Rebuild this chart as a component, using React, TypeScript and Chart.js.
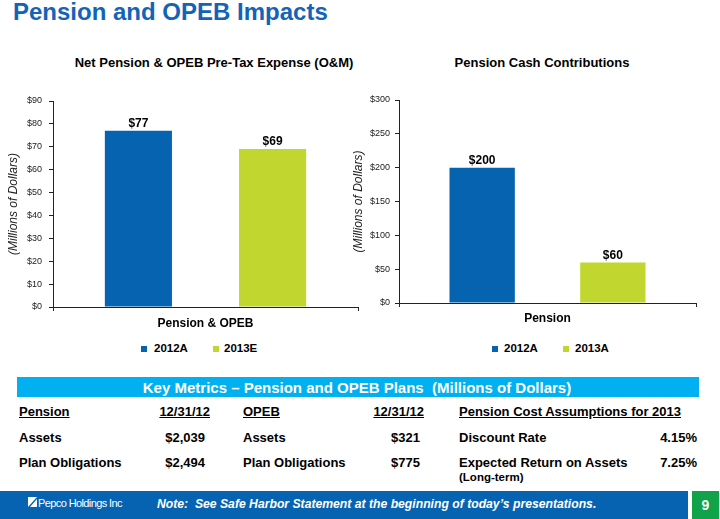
import React, { useEffect, useRef } from "react";
import { Chart, registerables } from "chart.js";

Chart.register(...registerables);

const FONT = "'Liberation Sans', Arial, Helvetica, sans-serif";

// ---- Data ----
const leftCategories = ["Pension & OPEB"];
const leftSeriesNames = ["2012A", "2013E"];
const left2012A = [77];
const left2013E = [69];
const leftYMax = 90;
const leftYStep = 10;

const rightCategories = ["Pension"];
const rightSeriesNames = ["2012A", "2013A"];
const right2012A = [200];
const right2013A = [60];
const rightYMax = 300;
const rightYStep = 50;

const BLUE = "#0563AF";
const GREEN = "#C1D72F";

const valueLabels = {
  id: "valueLabels",
  afterDatasetsDraw(chart: any) {
    const ctx = chart.ctx;
    ctx.save();
    ctx.font = `bold 12px ${FONT}`;
    ctx.fillStyle = "#000";
    ctx.textAlign = "center";
    ctx.textBaseline = "bottom";
    chart.data.datasets.forEach((ds: any, i: number) => {
      const meta = chart.getDatasetMeta(i);
      meta.data.forEach((el: any, j: number) => {
        ctx.fillText("$" + ds.data[j], el.x, el.y - 1);
      });
    });
    ctx.restore();
  },
};

function makeConfig(
  cats: string[],
  names: string[],
  s1: number[],
  s2: number[],
  yMax: number,
  yStep: number,
  p: { top: number; right: number; yWidth: number; xHeight: number; xPad: number; yPad: number; titlePad: number }
): any {
  return {
    type: "bar",
    data: {
      labels: cats,
      datasets: [
        { label: names[0], data: s1, backgroundColor: BLUE, categoryPercentage: 0.88, barPercentage: 0.5 },
        { label: names[1], data: s2, backgroundColor: GREEN, categoryPercentage: 0.88, barPercentage: 0.5 },
      ],
    },
    options: {
      responsive: false,
      animation: false,
      devicePixelRatio: 1,
      layout: { padding: { top: p.top, right: p.right, left: 0, bottom: 0 } },
      plugins: { legend: { display: false }, tooltip: { enabled: false }, title: { display: false } },
      scales: {
        x: {
          grid: { offset: true, drawOnChartArea: false, drawTicks: true, tickLength: 4, color: "#222" },
          border: { color: "#222", width: 1 },
          ticks: { color: "#000", font: { family: FONT, size: 12, weight: "bold" }, padding: p.xPad },
          afterFit: (s: any) => {
            s.height = p.xHeight;
          },
        },
        y: {
          min: 0,
          max: yMax,
          ticks: {
            stepSize: yStep,
            callback: (v: any) => "$" + v,
            color: "#222",
            font: { family: FONT, size: 9 },
            padding: p.yPad,
          },
          grid: { drawOnChartArea: false, drawTicks: true, tickLength: 4, color: "#222" },
          border: { color: "#222", width: 1 },
          title: {
            display: true,
            text: "(Millions of Dollars)",
            color: "#222",
            font: { family: FONT, size: 12, style: "italic" },
            padding: { top: p.titlePad, bottom: 0 },
          },
          afterFit: (s: any) => {
            s.width = p.yWidth;
          },
        },
      },
    },
    plugins: [valueLabels],
  };
}

function BarChart(props: { left: number; top: number; width: number; height: number; config: any }) {
  const ref = useRef<HTMLCanvasElement>(null);
  useEffect(() => {
    if (!ref.current) return;
    const c = new Chart(ref.current, props.config);
    return () => c.destroy();
  }, []);
  return (
    <canvas
      ref={ref}
      width={props.width}
      height={props.height}
      style={{ position: "absolute", left: props.left, top: props.top, width: props.width, height: props.height, display: "block" }}
    />
  );
}

function T(props: {
  x: number;
  y: number;
  text: string;
  size?: number;
  bold?: boolean;
  italic?: boolean;
  color?: string;
  align?: "left" | "right" | "center";
  underline?: boolean;
  lh?: number;
  ls?: number;
  weight?: number;
}) {
  const size = props.size ?? 13;
  const lh = props.lh ?? size + 6;
  const align = props.align ?? "left";
  const style: any = {
    position: "absolute",
    top: props.y - lh / 2,
    lineHeight: lh + "px",
    height: lh,
    fontSize: size,
    fontWeight: props.weight ?? (props.bold === false ? 400 : 700),
    fontStyle: props.italic ? "italic" : "normal",
    color: props.color ?? "#000",
    whiteSpace: "pre",
    textDecoration: props.underline ? "underline" : "none",
    letterSpacing: props.ls ?? 0,
  };
  if (align === "left") style.left = props.x;
  else if (align === "right") style.right = 720 - props.x;
  else {
    style.left = props.x - 300;
    style.width = 600;
    style.textAlign = "center";
  }
  return <div style={style}>{props.text}</div>;
}

function Sq(props: { x: number; y: number; color: string }) {
  return <div style={{ position: "absolute", left: props.x, top: props.y, width: 6, height: 6, background: props.color }} />;
}

export default function App() {
  const leftConfig = makeConfig(leftCategories, leftSeriesNames, left2012A, left2013E, leftYMax, leftYStep, {
    top: 13,
    right: 14,
    yWidth: 53,
    xHeight: 31,
    xPad: 5,
    yPad: 7,
    titlePad: 6,
  });
  const rightConfig = makeConfig(rightCategories, rightSeriesNames, right2012A, right2013A, rightYMax, rightYStep, {
    top: 12,
    right: 14,
    yWidth: 59,
    xHeight: 35,
    xPad: 4,
    yPad: 5,
    titlePad: 11,
  });

  return (
    <div
      style={{
        position: "fixed",
        left: 0,
        top: 0,
        width: 720,
        height: 519,
        background: "#fff",
        fontFamily: FONT,
        overflow: "hidden",
      }}
    >
      <div
        style={{
          position: "absolute",
          left: 13,
          top: 0,
          fontSize: 24,
          lineHeight: "23px",
          fontWeight: 700,
          color: "#1363B8",
          whiteSpace: "nowrap",
        }}
      >
        Pension and OPEB Impacts
      </div>

      <T x={214} y={62} align="center" text="Net Pension & OPEB Pre-Tax Expense (O&M)" size={13} />
      <T x={542} y={62} align="center" text="Pension Cash Contributions" size={13} />

      <BarChart left={0} top={88} width={372} height={250} config={leftConfig} />
      <BarChart left={340} top={88} width={370} height={250} config={rightConfig} />

      {/* legends */}
      <Sq x={141} y={346} color={BLUE} />
      <T x={154} y={349} text={leftSeriesNames[0]} size={11.5} />
      <Sq x={213} y={346} color={GREEN} />
      <T x={224} y={349} text={leftSeriesNames[1]} size={11.5} />

      <Sq x={492} y={346} color={BLUE} />
      <T x={504} y={349} text={rightSeriesNames[0]} size={11.5} />
      <Sq x={563} y={346} color={GREEN} />
      <T x={575} y={349} text={rightSeriesNames[1]} size={11.5} />

      {/* banner */}
      <div style={{ position: "absolute", left: 17, top: 377, width: 682, height: 20, background: "#00B0F0" }} />
      <T x={357} y={387} align="center" color="#fff" size={15} text="Key Metrics – Pension and OPEB Plans  (Millions of Dollars)" />

      {/* table */}
      <T x={19} y={411} text="Pension" underline />
      <T x={210} y={411} align="right" text="12/31/12" underline />
      <T x={243} y={411} text="OPEB" underline />
      <T x={424} y={411} align="right" text="12/31/12" underline />
      <T x={459} y={411} text="Pension Cost Assumptions for 2013" underline />

      <T x={19} y={437} text="Assets" />
      <T x={205} y={437} align="right" text="$2,039" />
      <T x={243} y={437} text="Assets" />
      <T x={420} y={437} align="right" text="$321" />
      <T x={459} y={437} text="Discount Rate" />
      <T x={697} y={437} align="right" text="4.15%" />

      <T x={19} y={462} text="Plan Obligations" />
      <T x={205} y={462} align="right" text="$2,494" />
      <T x={243} y={462} text="Plan Obligations" />
      <T x={420} y={462} align="right" text="$775" />
      <T x={459} y={462} text="Expected Return on Assets" />
      <T x={697} y={462} align="right" text="7.25%" />
      <T x={459} y={478} text="(Long-term)" size={11.5} />

      {/* footer */}
      <div style={{ position: "absolute", left: 0, top: 491, width: 688, height: 28, background: "#0563B1" }} />
      <div style={{ position: "absolute", left: 692, top: 491, width: 27, height: 28, background: "#10A34A" }} />
      <T x={705.5} y={505} align="center" color="#fff" size={14} text="9" />
      <svg style={{ position: "absolute", left: 28, top: 497 }} width={9} height={10}>
        <polygon points="0,0 9,0 0,10" fill="#fff" />
        <polygon points="9,2 9,10 2,10" fill="#fff" />
      </svg>
      <T x={38} y={503} color="#fff" size={11} weight={400} ls={-0.6} text="Pepco Holdings Inc" />
      <T x={157} y={504} color="#fff" size={12.2} italic text="Note:  See Safe Harbor Statement at the beginning of today’s presentations." />
    </div>
  );
}
